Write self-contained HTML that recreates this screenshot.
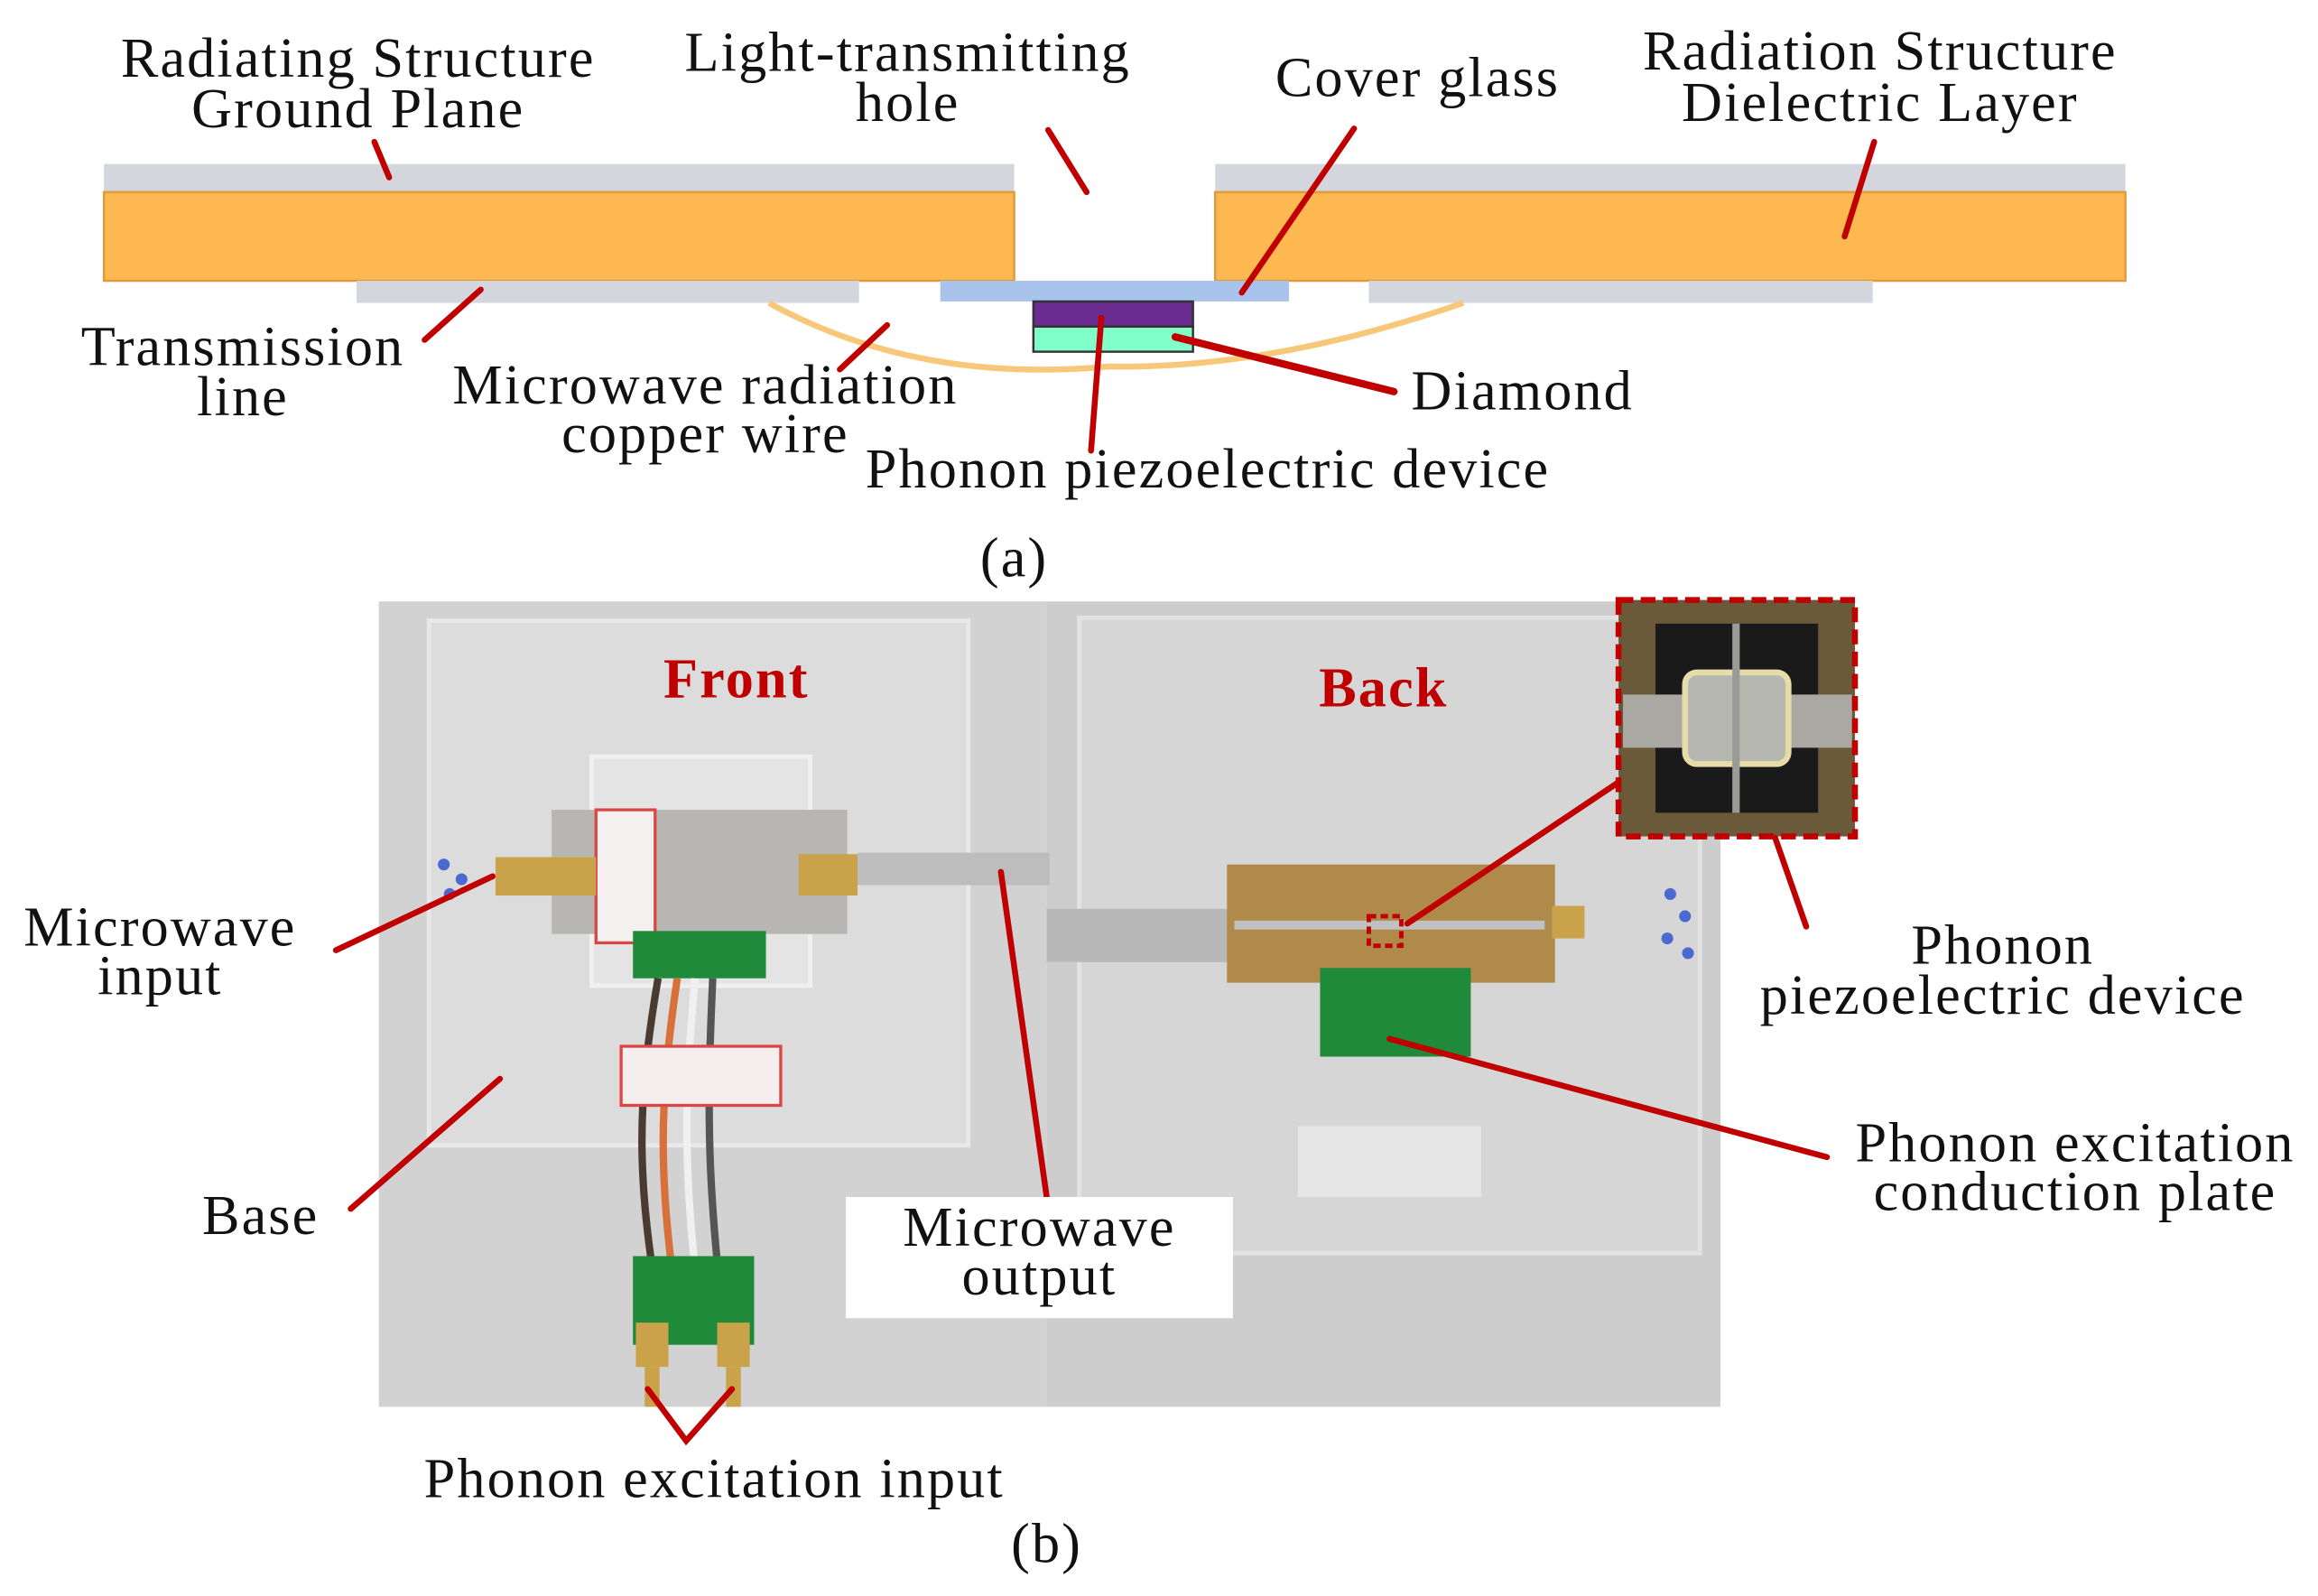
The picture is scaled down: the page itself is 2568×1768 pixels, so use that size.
<!DOCTYPE html>
<html><head><meta charset="utf-8"><style>
html,body{margin:0;padding:0;background:#fff;}
svg{display:block;}
text{font-family:"Liberation Serif",serif;font-size:38px;letter-spacing:1.3px;fill:#111;}
</style></head><body>
<svg width="2568" height="1768" viewBox="0 0 1568 1080" xmlns="http://www.w3.org/2000/svg">
<!-- (a) -->
<rect x="70" y="111" width="616" height="20" fill="#d3d6dc"/>
<rect x="70" y="130" width="616" height="60" fill="#fdb851" stroke="#e09a3a" stroke-width="1.5"/>
<rect x="822" y="111" width="616" height="20" fill="#d3d6dc"/>
<rect x="822" y="130" width="616" height="60" fill="#fdb851" stroke="#e09a3a" stroke-width="1.5"/>
<rect x="241" y="190" width="340" height="15" fill="#d3d6dc"/>
<rect x="926" y="190" width="341" height="15" fill="#d3d6dc"/>
<path d="M520 205 Q620 260 750 248 Q860 250 990 205" fill="none" stroke="#f7c77a" stroke-width="4"/>
<rect x="636" y="190" width="236" height="14" fill="#a9c4ec"/>
<rect x="699" y="204" width="108" height="17" fill="#6a2c91" stroke="#333" stroke-width="1.5"/>
<rect x="699" y="221" width="108" height="17" fill="#80ffc8" stroke="#333" stroke-width="1.5"/>
<g stroke="#c00000" stroke-width="4" stroke-linecap="round">
<line x1="253" y1="96" x2="263" y2="120"/>
<line x1="709" y1="88" x2="735" y2="130"/>
<line x1="916" y1="87" x2="840" y2="198"/>
<line x1="1268" y1="96" x2="1248" y2="160"/>
<line x1="325" y1="196" x2="287" y2="230"/>
<line x1="600" y1="220" x2="568" y2="250"/>
<line x1="795" y1="228" x2="943" y2="265" stroke-width="5"/>
<line x1="745" y1="215" x2="738" y2="305"/>
</g>
<g text-anchor="middle">
<text x="242" y="52">Radiating Structure</text>
<text x="242" y="86">Ground Plane</text>
<text x="614" y="48">Light-transmitting</text>
<text x="614" y="82">hole</text>
<text x="959" y="65">Cover glass</text>
<text x="1272" y="47">Radiation Structure</text>
<text x="1272" y="82">Dielectric Layer</text>
<text x="164" y="247">Transmission</text>
<text x="164" y="281">line</text>
<text x="477" y="273">Microwave radiation</text>
<text x="477" y="306">copper wire</text>
<text x="1030" y="277">Diamond</text>
<text x="817" y="330">Phonon piezoelectric device</text>
<text x="686" y="390">(a)</text>
</g>
<!-- (b) photo -->
<rect x="256" y="407" width="452" height="545" fill="#d2d2d2"/>
<rect x="708" y="407" width="456" height="545" fill="#cdcdcd"/>
<rect x="290" y="420" width="365" height="355" fill="#dcdcdc" stroke="#e8e8e8" stroke-width="3"/>
<rect x="730" y="418" width="420" height="430" fill="#d6d6d6" stroke="#e2e2e2" stroke-width="3"/>
<rect x="400" y="512" width="148" height="155" fill="#e4e4e4" stroke="#f0f0f0" stroke-width="3"/>
<rect x="373" y="548" width="200" height="84" fill="#b8b6b2"/>
<rect x="403" y="548" width="40" height="90" fill="#f4f0f0" stroke="#d44" stroke-width="2"/>
<rect x="335" y="580" width="68" height="26" fill="#c9a24a"/>
<rect x="540" y="578" width="40" height="28" fill="#c9a24a"/>
<rect x="580" y="577" width="130" height="22" fill="#bdbdbd"/>
<rect x="428" y="630" width="90" height="32" fill="#1f8a3a"/>
<path d="M445 662 C430 750 430 800 448 900" stroke="#4a3a30" stroke-width="5" fill="none"/>
<path d="M458 662 C445 750 445 800 460 900" stroke="#d8703a" stroke-width="5" fill="none"/>
<path d="M470 662 C462 750 462 800 475 900" stroke="#f0f0f0" stroke-width="5" fill="none"/>
<path d="M482 662 C478 750 478 800 490 900" stroke="#555" stroke-width="5" fill="none"/>
<rect x="420" y="708" width="108" height="40" fill="#f4eeee" stroke="#d44" stroke-width="2"/>
<rect x="428" y="850" width="82" height="60" fill="#1f8a3a"/>
<rect x="430" y="895" width="22" height="30" fill="#c9a24a"/>
<rect x="485" y="895" width="22" height="30" fill="#c9a24a"/>
<rect x="436" y="925" width="10" height="27" fill="#c9a24a"/>
<rect x="491" y="925" width="10" height="27" fill="#c9a24a"/>
<rect x="708" y="615" width="125" height="36" fill="#b8b8b8"/>
<rect x="830" y="585" width="222" height="80" fill="#b08a4a"/>
<rect x="835" y="623" width="210" height="6" fill="#c0c0c0"/>
<rect x="1050" y="613" width="22" height="22" fill="#c9a24a"/>
<rect x="893" y="655" width="102" height="60" fill="#1f8a3a"/>
<rect x="878" y="762" width="124" height="48" fill="#e6e6e6"/>
<g fill="#4a6ad0"><circle cx="300" cy="585" r="4"/><circle cx="312" cy="595" r="4"/><circle cx="304" cy="605" r="4"/><circle cx="1130" cy="605" r="4"/><circle cx="1140" cy="620" r="4"/><circle cx="1128" cy="635" r="4"/><circle cx="1142" cy="645" r="4"/></g>
<!-- inset -->
<rect x="1095" y="406" width="160" height="160" fill="#6a5a3a"/>
<rect x="1120" y="422" width="110" height="128" fill="#1a1a1a"/>
<rect x="1098" y="470" width="155" height="36" fill="#a9a8a2"/>
<rect x="1140" y="455" width="70" height="62" rx="8" fill="#b7b7b2" stroke="#e6dcaa" stroke-width="4"/>
<rect x="1172" y="422" width="5" height="128" fill="#9a9a96"/>
<rect x="1095" y="406" width="160" height="160" fill="none" stroke="#c00000" stroke-width="4" stroke-dasharray="10 5"/>
<rect x="926" y="620" width="22" height="20" fill="none" stroke="#c00000" stroke-width="3" stroke-dasharray="5 3"/>
<g stroke="#c00000" stroke-width="4" stroke-linecap="round" fill="none">
<line x1="227" y1="643" x2="333" y2="593"/>
<line x1="237" y1="818" x2="338" y2="730"/>
<line x1="708" y1="810" x2="677" y2="590"/>
<line x1="1236" y1="783" x2="940" y2="703"/>
<line x1="1222" y1="627" x2="1201" y2="567"/>
<line x1="1094" y1="530" x2="952" y2="625"/>
<polyline points="438,940 464,975 495,940"/>
</g>
<rect x="572" y="810" width="262" height="82" fill="#fff"/>
<g text-anchor="middle">
<text x="498" y="472" style="fill:#c00000;font-weight:bold">Front</text>
<text x="936" y="478" style="fill:#c00000;font-weight:bold">Back</text>
<text x="108" y="640">Microwave</text>
<text x="108" y="673">input</text>
<text x="176" y="835">Base</text>
<text x="703" y="843">Microwave</text>
<text x="703" y="876">output</text>
<text x="1355" y="652">Phonon</text>
<text x="1355" y="686">piezoelectric device</text>
<text x="1404" y="786">Phonon excitation</text>
<text x="1404" y="819">conduction plate</text>
<text x="483" y="1013">Phonon excitation input</text>
<text x="708" y="1057">(b)</text>
</g>
</svg>
</body></html>
